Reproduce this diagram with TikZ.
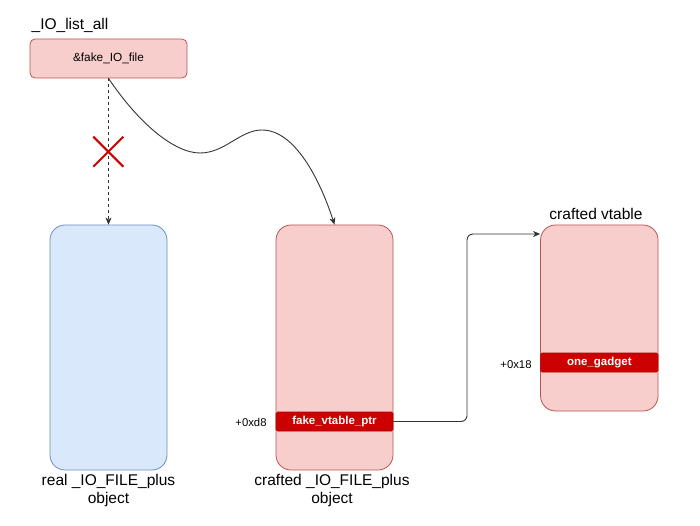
\documentclass[tikz,border=0pt]{standalone}
\usepackage{fontspec}
\setmainfont{Liberation Sans}
\usetikzlibrary{arrows.meta}
\definecolor{pinkfill}{HTML}{F8CECC}
\definecolor{pinkline}{HTML}{B85450}
\definecolor{bluefill}{HTML}{DAE8FC}
\definecolor{blueline}{HTML}{6C8EBF}
\definecolor{barred}{HTML}{CC0000}
\definecolor{linegray}{HTML}{333333}
\begin{document}
\begin{tikzpicture}[x=1pt,y=-1pt,
  pinkbox/.style={draw=pinkline,fill=pinkfill,line width=0.8pt,inner sep=0pt},
  bluebox/.style={draw=blueline,fill=bluefill,line width=0.8pt,inner sep=0pt},
  tallbox/.style={minimum width=117pt,rounded corners=15pt},
  barbox/.style={draw=barred!85!black,fill=barred,line width=0.6pt,inner sep=0pt,rounded corners=1.5pt,
     minimum width=117pt,minimum height=19pt,text=white,font=\fontsize{11.5}{13}\selectfont\bfseries},
  biglabel/.style={font=\fontsize{15.5}{18}\selectfont,align=center,inner sep=0pt},
  smalllabel/.style={font=\fontsize{11.3}{13}\selectfont,inner sep=0pt},
  conn/.style={draw=linegray,line width=0.9pt,-{Stealth[length=7pt,width=6pt,inset=2pt]}},
  crossmark/.style={draw=barred,line width=2pt}
]
\useasboundingbox (0,0) rectangle (700,526);

% top box
\node[biglabel,anchor=base west] (listlabel) at (31.5,29.3) {\_IO\_list\_all};
\node[pinkbox,rounded corners=5pt,minimum width=157pt,minimum height=39pt,
      font=\fontsize{11.8}{14}\selectfont] (list) at (108.5,58.5) {\&fake\_IO\_file};

% tall boxes
\node[bluebox,tallbox,minimum height=245pt] (real) at (108.5,347.5) {};
\node[pinkbox,tallbox,minimum height=245pt] (crafted) at (334.5,347.5) {};
\node[pinkbox,tallbox,minimum width=117.5pt,minimum height=186pt] (vt) at (599.3,318) {};

% bars
\node[barbox] (ptr) at (334.5,421.5) {fake\_vtable\_ptr};
\node[barbox,minimum width=117.5pt] (gadget) at (599.3,362.5) {one\_gadget};

% labels
\node[biglabel] (reallabel) at (108.5,490) {real \_IO\_FILE\_plus\\object};
\node[biglabel] (craftedlabel) at (332,490) {crafted \_IO\_FILE\_plus\\object};
\node[biglabel,anchor=base] (vtlabel) at (596,220) {crafted vtable};
\node[smalllabel,anchor=base] (offd8) at (251,426.7) {+0xd8};
\node[smalllabel,anchor=base] (off18) at (516,368) {+0x18};

% dashed (broken) link
\draw[conn,dash pattern=on 3pt off 3pt] (list.south) -- (real.north);
\coordinate (xc) at (108.3,151.7);
\draw[crossmark] (93.3,136.7) -- (123.3,166.7) (93.3,166.7) -- (123.3,136.7);

% curved link
\draw[conn] (list.south) .. controls (140,125) and (175,153) .. (200,153)
  .. controls (225,153) and (240,130) .. (262,130)
  .. controls (295,130) and (320,180) .. (crafted.north);

% vtable pointer
\draw[conn,rounded corners=6pt] (ptr.east) -- (467,421.5) -- (467,234) -- (vt.west |- 0,234);
\end{tikzpicture}
\end{document}
